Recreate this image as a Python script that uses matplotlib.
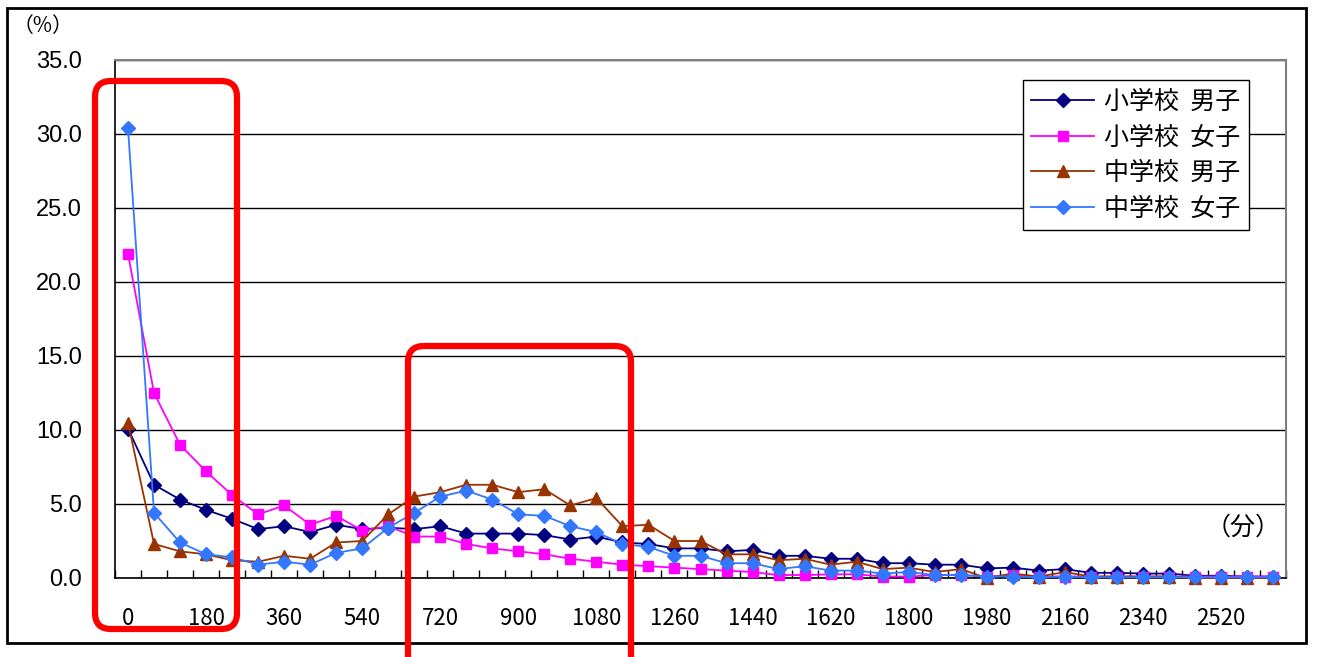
"""Line chart of minutes distribution by school and gender."""
import matplotlib
matplotlib.use("Agg")
import matplotlib.pyplot as plt
from matplotlib.patches import FancyBboxPatch, Rectangle
import numpy as np

plt.rcParams['font.family'] = ['Noto Sans CJK JP', 'DejaVu Sans']

W, H = 1317, 657

minutes = list(range(0, 2700, 60))
tick_labels = list(range(0, 2700, 180))

elem_boys = [10.1, 6.3, 5.3, 4.6, 4.0, 3.3, 3.5, 3.1, 3.6, 3.3,
             3.4, 3.3, 3.5, 3.0, 3.0, 3.0, 2.9, 2.6, 2.8, 2.4,
             2.3, 2.0, 2.0, 1.8, 1.9, 1.5, 1.5, 1.3, 1.3, 1.0,
             1.0, 0.9, 0.9, 0.65, 0.7, 0.5, 0.6, 0.35, 0.35, 0.3,
             0.3, 0.15, 0.15, 0.1, 0.1]
elem_girls = [21.9, 12.5, 9.0, 7.2, 5.6, 4.3, 4.9, 3.6, 4.2, 3.2,
              3.5, 2.8, 2.8, 2.3, 2.0, 1.8, 1.6, 1.3, 1.1, 0.9,
              0.8, 0.7, 0.6, 0.5, 0.4, 0.2, 0.2, 0.25, 0.25, 0.1,
              0.1, 0.2, 0.2, 0.1, 0.2, 0.1, 0.1, 0.1, 0.1, 0.1,
              0.1, 0.1, 0.1, 0.1, 0.1]
jh_boys = [10.5, 2.3, 1.8, 1.6, 1.2, 1.1, 1.5, 1.3, 2.4, 2.5,
           4.3, 5.5, 5.8, 6.3, 6.3, 5.8, 6.0, 4.9, 5.4, 3.5,
           3.6, 2.5, 2.5, 1.6, 1.6, 1.2, 1.3, 0.9, 1.1, 0.6,
           0.7, 0.4, 0.6, 0.0, 0.3, 0.1, 0.4, 0.1, 0.1, 0.1,
           0.1, 0.0, 0.0, 0.0, 0.0]
jh_girls = [30.4, 4.4, 2.4, 1.6, 1.4, 0.9, 1.1, 0.9, 1.7, 2.0,
            3.4, 4.4, 5.5, 5.9, 5.3, 4.3, 4.2, 3.5, 3.1, 2.3,
            2.1, 1.5, 1.5, 1.0, 1.0, 0.6, 0.8, 0.5, 0.5, 0.3,
            0.4, 0.2, 0.2, 0.1, 0.1, 0.05, 0.1, 0.05, 0.05, 0.05,
            0.05, 0.05, 0.05, 0.05, 0.05]

series_names = ['小学校  男子', '小学校  女子', '中学校  男子', '中学校  女子']


def px_to_fig(x0, y0, x1, y1):
    # pixel box (top-left origin) -> figure fraction rect
    return [x0 / W, 1 - y1 / H, (x1 - x0) / W, (y1 - y0) / H]


fig = plt.figure(figsize=(W / 100, H / 100), dpi=100)
ax = fig.add_axes(px_to_fig(115, 60, 1286, 578))

styles = [
    dict(color='#000080', marker='D', ms=7),
    dict(color='#FF00FF', marker='s', ms=7.5),
    dict(color='#993300', marker='^', ms=9),
    dict(color='#3377FF', marker='D', ms=7),
]
for vals, name, st in zip([elem_boys, elem_girls, jh_boys, jh_girls], series_names, styles):
    ax.plot(minutes, vals, color=st['color'], marker=st['marker'], markersize=st['ms'],
            markerfacecolor=st['color'], markeredgecolor=st['color'], linewidth=1.3,
            label=name, clip_on=False, zorder=3)

ax.set_xlim(-30, 2670)
ax.set_ylim(0, 35)
ax.set_yticks(np.arange(0, 35.1, 5))
ax.set_yticklabels([f'{v:.1f}' for v in np.arange(0, 35.1, 5)], fontsize=17,
                   family=['Liberation Sans', 'DejaVu Sans'])
ax.set_xticks(tick_labels)
ax.set_xticklabels([str(v) for v in tick_labels], fontsize=16)
ax.set_xticks(np.arange(-30, 2671, 60), minor=True)
ax.tick_params(axis='x', which='major', length=0, pad=21)
ax.tick_params(axis='x', which='minor', direction='in', length=6, width=1, color='black')
ax.tick_params(axis='y', which='major', length=0, pad=24)

ax.grid(axis='y', color='black', linewidth=1.0, zorder=1)
ax.set_axisbelow(True)
for side in ['left', 'bottom']:
    ax.spines[side].set_color('black')
    ax.spines[side].set_linewidth(1.2)
for side in ['top', 'right']:
    ax.spines[side].set_color('#808080')
    ax.spines[side].set_linewidth(1.5)

leg = ax.legend(loc='upper right', bbox_to_anchor=(0.9684, 0.961), fontsize=18,
                frameon=True, fancybox=False, edgecolor='black', framealpha=1,
                handlelength=2.5, labelspacing=0.38, borderpad=0.35, handletextpad=0.4,
                borderaxespad=0)
leg.get_frame().set_linewidth(1.0)

# overlay in pixel coordinates for the frame, unit labels and red boxes
ov = fig.add_axes([0, 0, 1, 1], zorder=10)
ov.set_xlim(0, W)
ov.set_ylim(H, 0)
ov.axis('off')
ov.patch.set_alpha(0)

ov.add_patch(Rectangle((7, 8), 1299, 635, fill=False, edgecolor='black', linewidth=2))
ov.text(43, 26, '（%）', fontsize=15, ha='center', va='center')
ov.text(1243, 528, '（分）', fontsize=18, ha='center', va='center')

ov.add_patch(FancyBboxPatch((95, 81), 142, 548, boxstyle='round,pad=0,rounding_size=16',
                            fill=False, edgecolor='#FF0000', linewidth=4.5))
ov.add_patch(FancyBboxPatch((408, 346), 223, 330, boxstyle='round,pad=0,rounding_size=16',
                            fill=False, edgecolor='#FF0000', linewidth=4.5, clip_on=False))

fig.savefig('out.png', dpi=100)
